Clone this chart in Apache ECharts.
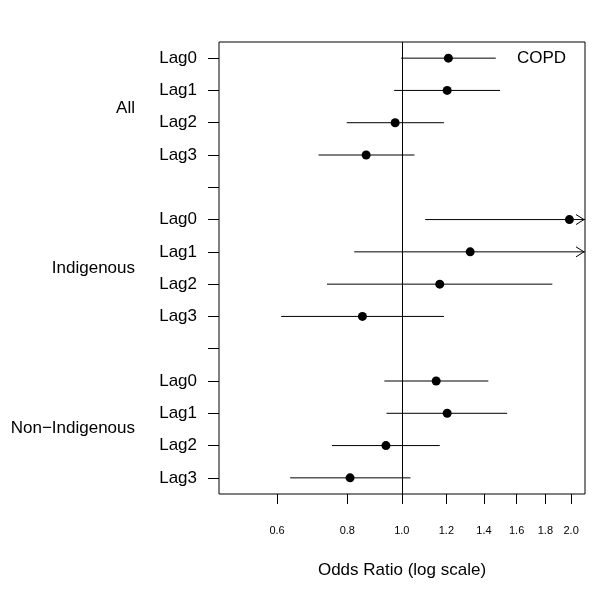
<!DOCTYPE html>
<html>
<head>
<meta charset="utf-8">
<script src="https://cdn.jsdelivr.net/npm/echarts@6/dist/echarts.min.js"></script>
<style>
  html, body { margin: 0; padding: 0; background: #fff; }
  #chart { width: 600px; height: 599px; }
</style>
</head>
<body>
<div id="chart"></div>
<script>
// rows top to bottom, blank rows separate the groups
const rowLabels = ['Lag0', 'Lag1', 'Lag2', 'Lag3', '', 'Lag0', 'Lag1', 'Lag2', 'Lag3', '', 'Lag0', 'Lag1', 'Lag2', 'Lag3']
const groupNames = ['All', 'Indigenous', 'Non\u2212Indigenous']
const rowIndex = [0, 1, 2, 3, 5, 6, 7, 8, 10, 11, 12, 13]

// odds ratio and 95% CI per row
const oddsRatio = [1.21, 1.204, 0.973, 0.864, 1.986, 1.323, 1.168, 0.851, 1.151, 1.204, 0.937, 0.809]
const lower = [0.997, 0.969, 0.798, 0.711, 1.10, 0.823, 0.736, 0.61, 0.931, 0.939, 0.751, 0.633]
const upper = [1.469, 1.495, 1.188, 1.053, 2.6, 2.4, 1.852, 1.188, 1.425, 1.539, 1.168, 1.036]

const xTicks = [0.6, 0.8, 1.0, 1.2, 1.4, 1.6, 1.8, 2.0]
const xMin = 0.473
const xMax = 2.117
const refLine = 1

const FONT = 'Liberation Sans, Arial, Helvetica, sans-serif'
const BIG = 17

const chart = echarts.init(document.getElementById('chart'), null, { renderer: 'canvas' })

function renderCI(params, api) {
  const lo = api.value(1)
  const hi = api.value(2)
  const row = api.value(0)
  const clipped = hi > xMax
  const p1 = api.coord([lo, row])
  const p2 = api.coord([clipped ? xMax : hi, row])
  const children = [{
    type: 'line',
    shape: { x1: p1[0], y1: p1[1], x2: p2[0], y2: p2[1] },
    style: { stroke: '#000', lineWidth: 1 }
  }]
  if (clipped) {
    children.push({
      type: 'polyline',
      shape: { points: [[p2[0] - 9, p2[1] - 5], [p2[0] - 1, p2[1]], [p2[0] - 9, p2[1] + 5]] },
      style: { stroke: '#000', lineWidth: 1, fill: null }
    })
  }
  return { type: 'group', children: children }
}

function label(text, x, y, align) {
  return {
    type: 'text', x: x, y: y,
    style: { text: text, fontSize: BIG, fontFamily: FONT, fill: '#000', textAlign: align, textVerticalAlign: 'middle' }
  }
}

const ciData = rowIndex.map((r, i) => [r, lower[i], upper[i]])
const pointData = rowIndex.map((r, i) => [oddsRatio[i], r])

chart.setOption({
  animation: false,
  backgroundColor: '#fff',
  textStyle: { fontFamily: FONT },
  grid: { left: 219, right: 15, top: 42, bottom: 105, show: true, borderColor: '#000', borderWidth: 1, backgroundColor: 'transparent' },
  xAxis: {
    type: 'log',
    logBase: 10,
    min: xMin,
    max: xMax,
    axisLine: { show: false },
    splitLine: { show: false },
    minorTick: { show: false },
    axisTick: { show: true, length: 10, customValues: xTicks, lineStyle: { color: '#000' } },
    axisLabel: {
      customValues: xTicks,
      formatter: v => Number(v).toFixed(1),
      fontSize: 11, color: '#000', margin: 31, fontFamily: FONT
    },
    name: 'Odds Ratio (log scale)',
    nameLocation: 'middle',
    nameGap: 68,
    nameTextStyle: { fontSize: BIG, color: '#000', fontFamily: FONT }
  },
  yAxis: {
    type: 'category',
    inverse: true,
    data: rowLabels,
    axisLine: { show: false },
    splitLine: { show: false },
    axisTick: { show: true, alignWithLabel: true, interval: 0, length: 11, lineStyle: { color: '#000' } },
    axisLabel: { interval: 0, fontSize: BIG, color: '#000', margin: 22, fontFamily: FONT }
  },
  graphic: [
    label(groupNames[0], 135, 108, 'right'),
    label(groupNames[1], 135, 268, 'right'),
    label(groupNames[2], 135, 428, 'right'),
    label('COPD', 517, 58, 'left')
  ],
  series: [
    {
      type: 'custom',
      renderItem: renderCI,
      encode: { x: [1, 2], y: 0 },
      data: ciData,
      silent: true,
      z: 2
    },
    {
      type: 'scatter',
      data: pointData,
      symbol: 'circle',
      symbolSize: 9,
      itemStyle: { color: '#000', opacity: 1 },
      silent: true,
      z: 3,
      markLine: {
        silent: true,
        symbol: 'none',
        label: { show: false },
        lineStyle: { color: '#000', type: 'solid', width: 1 },
        data: [{ xAxis: refLine }]
      }
    }
  ]
})
</script>
</body>
</html>
